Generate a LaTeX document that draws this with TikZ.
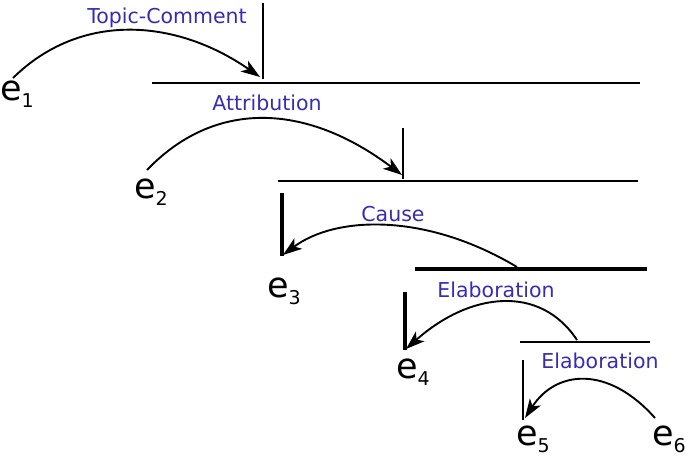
\documentclass[tikz,border=0pt]{standalone}
\usepackage{fontspec}
\setmainfont{DejaVu Sans}
\usetikzlibrary{arrows.meta}
\definecolor{lblblue}{RGB}{55,45,175}
\newcommand{\evar}[1]{{\fontsize{35}{40}\selectfont e}{\fontsize{19}{20}\selectfont\raisebox{-7pt}{#1}}}
\tikzset{
  rel/.style={font=\fontsize{20.5}{24}\selectfont, text=lblblue, anchor=base, inner sep=0pt},
  edu/.style={anchor=base west, inner sep=0pt},
  thinline/.style={line width=2pt},
  thickline/.style={line width=4.2pt},
  relarc/.style={line width=1.9pt, -{Stealth[length=19pt,width=13pt,inset=5pt]}},
}
\begin{document}
\begin{tikzpicture}[x=1pt,y=-1pt]
\useasboundingbox (0,0) rectangle (685,458);
% EDU labels
\node[edu] (e1) at (0,100) {\evar{1}};
\node[edu] (e2) at (134,198) {\evar{2}};
\node[edu] (e3) at (267,297) {\evar{3}};
\node[edu] (e4) at (396,378) {\evar{4}};
\node[edu] (e5) at (516,445) {\evar{5}};
\node[edu] (e6) at (652,445) {\evar{6}};
% relation labels
\node[rel] (tc) at (167,23) {Topic-Comment};
\node[rel] (at) at (267,110) {Attribution};
\node[rel] (ca) at (393,221) {Cause};
\node[rel] (el1) at (496,297) {Elaboration};
\node[rel] (el2) at (600,368) {Elaboration};
% coordinates
\coordinate (v1t) at (263,3);   \coordinate (v1b) at (263,79);
\coordinate (h1l) at (152,83);  \coordinate (h1r) at (640,83);
\coordinate (v2t) at (403,128); \coordinate (v2b) at (403,179);
\coordinate (h2l) at (278,181); \coordinate (h2r) at (638,181);
\coordinate (v3t) at (282,193); \coordinate (v3b) at (282,256);
\coordinate (h3l) at (415,269); \coordinate (h3r) at (647,269);
\coordinate (v4t) at (405,292); \coordinate (v4b) at (405,350);
\coordinate (h4l) at (520,342); \coordinate (h4r) at (650,342);
\coordinate (v5t) at (523,360); \coordinate (v5b) at (523,420);
% tree lines
\draw[thinline] (v1t) -- (v1b);
\draw[thinline] (h1l) -- (h1r);
\draw[thinline] (v2t) -- (v2b);
\draw[thinline] (h2l) -- (h2r);
\draw[thickline] (v3t) -- (v3b);
\draw[thickline] (h3l) -- (h3r);
\draw[thickline] (v4t) -- (v4b);
\draw[thinline] (h4l) -- (h4r);
\draw[thinline] (v5t) -- (v5b);
% arcs
\coordinate (a1s) at (13,78);  \coordinate (a1e) at (260,77);
\coordinate (a2s) at (147,170); \coordinate (a2e) at (402,175);
\coordinate (a3s) at (517,267); \coordinate (a3e) at (283,255);
\coordinate (a4s) at (577,340); \coordinate (a4e) at (406,349);
\coordinate (a5s) at (655,418); \coordinate (a5e) at (525,418);
\draw[relarc] (a1s) .. controls (80,12) and (175,18) .. (a1e);
\draw[relarc] (a2s) .. controls (214,100) and (305,102) .. (a2e);
\draw[relarc] (a3s) .. controls (425,212) and (335,216) .. (a3e);
\draw[relarc] (a4s) .. controls (540,284) and (470,292) .. (a4e);
\draw[relarc] (a5s) .. controls (608,365) and (556,370) .. (a5e);
\end{tikzpicture}
\end{document}
